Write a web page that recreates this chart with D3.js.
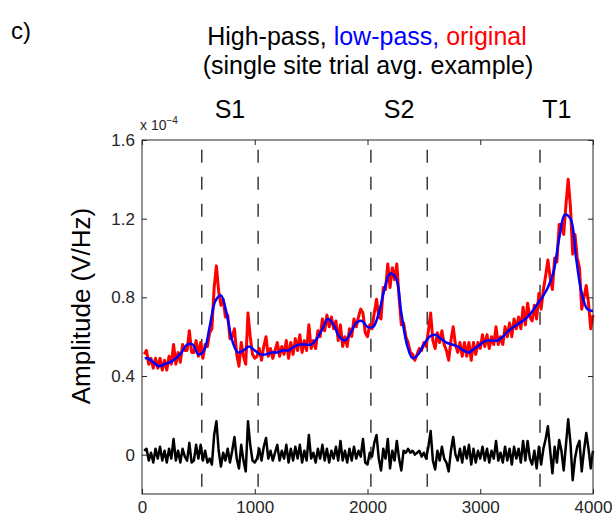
<!DOCTYPE html>
<html>
<head>
<meta charset="utf-8">
<script src="https://cdn.jsdelivr.net/npm/d3@7"></script>
<style>
  body { margin: 0; background: #fff; }
  svg text { font-family: "Liberation Sans", Arial, sans-serif; }
</style>
</head>
<body>
<svg id="chart" width="616" height="518"></svg>
<script>
// amplitude values are in units of 1e-4 V/Hz, time in ms
var sampleStep = 20;
var sampleTimes = d3.range(20, 4001, sampleStep);

var originalValues = [
  0.51, 0.53, 0.46, 0.49, 0.44, 0.49, 0.44, 0.49, 0.43, 0.48,
  0.43, 0.50, 0.46, 0.56, 0.46, 0.52, 0.47, 0.56, 0.53, 0.53,
  0.63, 0.52, 0.52, 0.58, 0.50, 0.57, 0.49, 0.56, 0.55, 0.62,
  0.64, 0.85, 0.96, 0.83, 0.76, 0.79, 0.70, 0.71, 0.59, 0.60,
  0.64, 0.51, 0.45, 0.57, 0.50, 0.46, 0.72, 0.60, 0.51, 0.49,
  0.50, 0.54, 0.48, 0.55, 0.60, 0.50, 0.54, 0.49, 0.53, 0.57,
  0.50, 0.55, 0.51, 0.58, 0.49, 0.57, 0.51, 0.59, 0.53, 0.61,
  0.52, 0.58, 0.53, 0.66, 0.54, 0.58, 0.54, 0.63, 0.60, 0.69,
  0.63, 0.71, 0.65, 0.70, 0.64, 0.68, 0.58, 0.66, 0.55, 0.60,
  0.55, 0.64, 0.60, 0.69, 0.65, 0.70, 0.74, 0.72, 0.62, 0.60,
  0.66, 0.64, 0.72, 0.79, 0.70, 0.69, 0.85, 0.84, 0.97, 0.85,
  0.95, 0.89, 0.97, 0.80, 0.66, 0.67, 0.60, 0.57, 0.52, 0.51,
  0.48, 0.51, 0.54, 0.53, 0.57, 0.55, 0.63, 0.72, 0.58, 0.54,
  0.62, 0.57, 0.63, 0.56, 0.53, 0.48, 0.58, 0.65, 0.56, 0.52,
  0.57, 0.50, 0.57, 0.50, 0.57, 0.48, 0.57, 0.51, 0.57, 0.54,
  0.61, 0.55, 0.61, 0.54, 0.60, 0.56, 0.65, 0.56, 0.60, 0.56,
  0.65, 0.60, 0.67, 0.60, 0.69, 0.64, 0.70, 0.64, 0.75, 0.66,
  0.77, 0.70, 0.68, 0.76, 0.69, 0.82, 0.74, 0.84, 0.91, 0.99,
  0.90, 0.84, 1.00, 0.98, 1.17, 1.17, 1.12, 1.27, 1.40, 1.26,
  1.02, 1.12, 1.00, 0.95, 0.74, 0.80, 0.86, 0.77, 0.64, 0.71
];

var highPassValues = [
  0.02, 0.03, -0.03, 0.01, -0.04, 0.03, -0.02, 0.04, -0.03, 0.02,
  -0.04, 0.03, -0.02, 0.08, -0.03, 0.02, -0.04, 0.03, -0.01, -0.03,
  0.06, -0.04, -0.03, 0.05, -0.02, 0.05, -0.03, 0.02, -0.04, -0.02,
  -0.05, 0.10, 0.17, 0.02, -0.06, 0.01, -0.03, 0.03, -0.04, 0.02,
  0.09, -0.02, -0.07, 0.05, -0.03, -0.085, 0.17, 0.05, -0.03, -0.04,
  -0.02, 0.03, -0.03, 0.04, 0.085, -0.02, 0.02, -0.03, 0.01, 0.05,
  -0.03, 0.02, -0.02, 0.05, -0.04, 0.03, -0.03, 0.04, -0.02, 0.05,
  -0.04, 0.02, -0.03, 0.10, -0.02, 0.01, -0.04, 0.03, -0.02, 0.05,
  -0.03, 0.03, -0.04, 0.02, -0.02, 0.04, -0.03, 0.07, -0.03, 0.02,
  -0.04, 0.03, -0.03, 0.04, -0.02, 0.02, -0.01, 0.08, -0.04, -0.05,
  0.01, -0.01, 0.06, 0.10, -0.02, -0.08, 0.03, -0.02, 0.08, -0.07,
  0.02, -0.03, 0.07, -0.02, -0.08, 0.02, 0.01, 0.03, 0.01, 0.02,
  0.00, 0.01, 0.02, -0.01, 0.01, -0.02, 0.04, 0.12, -0.03, -0.075,
  0.02, -0.03, 0.04, -0.02, -0.04, -0.085, 0.02, 0.09, 0.00, -0.03,
  0.03, -0.04, 0.04, -0.02, 0.05, -0.05, 0.03, -0.04, 0.02, -0.02,
  0.04, -0.03, 0.03, -0.04, 0.02, -0.02, 0.07, -0.03, 0.01, -0.04,
  0.04, -0.03, 0.03, -0.05, 0.04, -0.02, 0.03, -0.04, 0.07, -0.03,
  0.07, -0.02, -0.05, 0.02, -0.07, 0.04, -0.05, 0.03, 0.08, 0.145,
  0.02, -0.095, 0.04, -0.04, 0.075, 0.02, -0.08, 0.05, 0.18, 0.06,
  -0.13, -0.02, 0.04, 0.07, -0.085, 0.02, 0.11, 0.03, -0.07, 0.02
];

var lowPassTimes = [25].concat(d3.range(50, 4001, 50));
var lowPassValues = [
  0.49,
  0.49, 0.47, 0.45, 0.46, 0.47, 0.49, 0.52, 0.56, 0.56, 0.51,
  0.53, 0.65, 0.78, 0.81, 0.72, 0.58, 0.52, 0.53, 0.55, 0.53,
  0.51, 0.51, 0.52, 0.52, 0.53, 0.53, 0.55, 0.56, 0.56, 0.56,
  0.59, 0.64, 0.69, 0.66, 0.60, 0.58, 0.62, 0.67, 0.68, 0.65,
  0.65, 0.72, 0.84, 0.92, 0.90, 0.72, 0.56, 0.49, 0.51, 0.56,
  0.60, 0.61, 0.59, 0.57, 0.56, 0.55, 0.53, 0.52, 0.54, 0.56,
  0.58, 0.58, 0.58, 0.60, 0.63, 0.65, 0.67, 0.69, 0.72, 0.76,
  0.80, 0.85, 0.93, 1.10, 1.22, 1.20, 1.00, 0.82, 0.74, 0.73
];

var markerTimes = [530, 1030, 2030, 2530, 3530];
var eventLabels = ["S1", "S2", "T1"];
var eventTimes = [780, 2280, 3680];

var xTicks = [0, 1000, 2000, 3000, 4000];
var yTicks = [0, 0.4, 0.8, 1.2, 1.6];

var margin = { top: 140, right: 23, bottom: 24, left: 142 },
    width = 616 - margin.left - margin.right,
    height = 518 - margin.top - margin.bottom;

var axisColor = "#262626";

var svg = d3.select("#chart");

var x = d3.scaleLinear().domain([0, 4000]).range([0, width]);
var y = d3.scaleLinear().domain([-0.2, 1.6]).range([height, 0]);

var g = svg.append("g")
    .attr("transform", "translate(" + margin.left + "," + margin.top + ")");

// dashed event markers
g.selectAll(".marker")
    .data(markerTimes).enter()
    .append("line")
    .attr("class", "marker")
    .attr("x1", d => x(d)).attr("x2", d => x(d))
    .attr("y1", y(1.55)).attr("y2", y(-0.2))
    .attr("stroke", "#3a3a3a")
    .attr("stroke-width", 1.5)
    .attr("stroke-dasharray", "13,14");

var line = d3.line()
    .x(d => x(d[0]))
    .y(d => y(d[1]));

var smoothLine = d3.line()
    .x(d => x(d[0]))
    .y(d => y(d[1]))
    .curve(d3.curveCatmullRom.alpha(0.5));

// original (red)
g.append("path")
    .datum(sampleTimes.map((t, i) => [t, originalValues[i]]))
    .attr("d", line)
    .attr("fill", "none")
    .attr("stroke", "#ff0000")
    .attr("stroke-width", 3)
    .attr("stroke-linejoin", "round");

// low-pass (blue)
g.append("path")
    .datum(lowPassTimes.map((t, i) => [t, lowPassValues[i]]))
    .attr("d", smoothLine)
    .attr("fill", "none")
    .attr("stroke", "#0000ff")
    .attr("stroke-width", 2.5);

// high-pass (black)
g.append("path")
    .datum(sampleTimes.map((t, i) => [t, highPassValues[i]]))
    .attr("d", line)
    .attr("fill", "none")
    .attr("stroke", "#000")
    .attr("stroke-width", 2.5)
    .attr("stroke-linejoin", "round");

// axes, ticks pointing inwards like matlab
var fmt = d => d === 0 ? "0" : d3.format(".1f")(d);

var xAxis = g.append("g")
    .attr("transform", "translate(0," + height + ")")
    .call(d3.axisBottom(x).tickValues(xTicks).tickSize(-5).tickPadding(7).tickFormat(d3.format("d")));
var xTop = g.append("g")
    .call(d3.axisTop(x).tickValues(xTicks).tickSize(-5).tickFormat(""));
var yAxis = g.append("g")
    .call(d3.axisLeft(y).tickValues(yTicks).tickSize(-5).tickPadding(7).tickFormat(fmt));
var yRight = g.append("g")
    .attr("transform", "translate(" + width + ",0)")
    .call(d3.axisRight(y).tickValues(yTicks).tickSize(-5).tickFormat(""));

[xAxis, xTop, yAxis, yRight].forEach(a => {
    a.select(".domain").remove();
    a.selectAll(".tick line").attr("stroke", axisColor);
    a.selectAll(".tick text")
        .attr("fill", axisColor)
        .style("font-size", "17px");
});

g.append("rect")
    .attr("width", width).attr("height", height)
    .attr("fill", "none")
    .attr("stroke", axisColor)
    .attr("stroke-width", 1);

// exponent label
var expo = g.append("text")
    .attr("x", -2).attr("y", -10)
    .attr("fill", axisColor)
    .style("font-size", "14px");
expo.append("tspan").text("x 10");
expo.append("tspan").attr("dy", -6).style("font-size", "10px").text("\u22124");

// event labels
g.selectAll(".event")
    .data(eventLabels).enter()
    .append("text")
    .attr("x", (d, i) => x(eventTimes[i]))
    .attr("y", -22)
    .attr("text-anchor", "middle")
    .style("font-size", "25px")
    .text(d => d);

// y axis label
svg.append("text")
    .attr("transform", "translate(90,306) rotate(-90)")
    .attr("text-anchor", "middle")
    .style("font-size", "26px")
    .text("Amplitude (V/Hz)");

// panel letter and title
svg.append("text")
    .attr("x", 11).attr("y", 39)
    .style("font-size", "24px")
    .text("c)");

var title = svg.append("text")
    .attr("x", 367).attr("y", 45)
    .attr("text-anchor", "middle")
    .style("font-size", "25px");
title.append("tspan").attr("fill", "#000").text("High-pass, ");
title.append("tspan").attr("fill", "#0000ff").text("low-pass, ");
title.append("tspan").attr("fill", "#ff0000").text("original");

svg.append("text")
    .attr("x", 368).attr("y", 74)
    .attr("text-anchor", "middle")
    .style("font-size", "25px")
    .text("(single site trial avg. example)");
</script>
</body>
</html>
